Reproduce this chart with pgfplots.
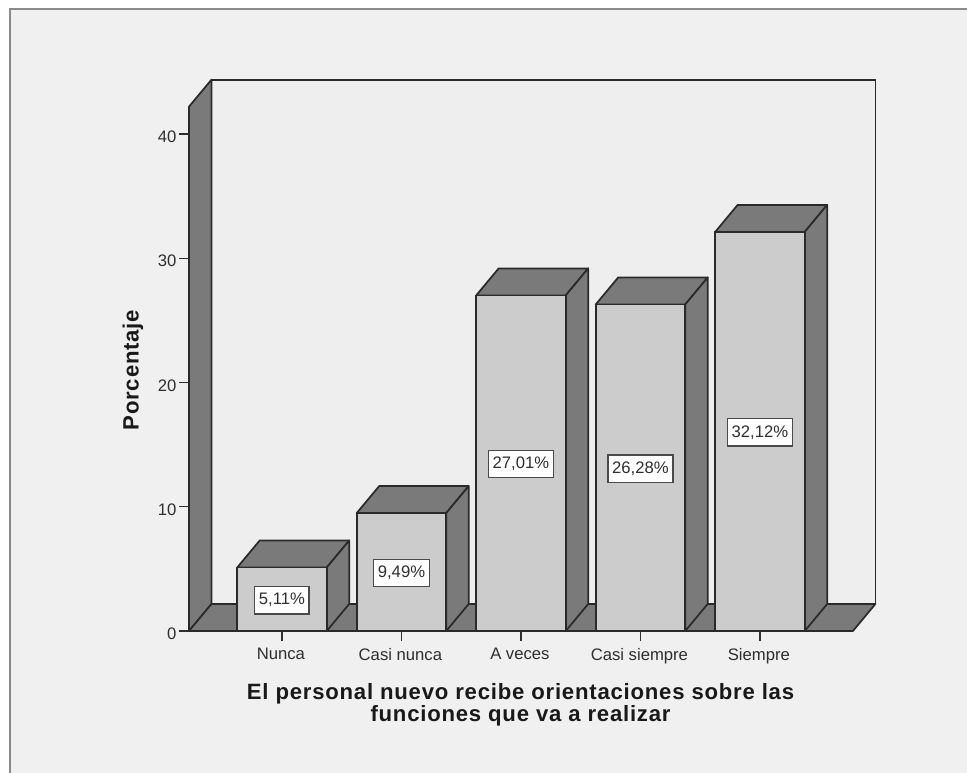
\documentclass[border=0pt]{standalone}
\usepackage{fontspec}
\setmainfont{Liberation Sans}
\usepackage{pgfplots}
\pgfplotsset{compat=1.18}
\definecolor{panel}{HTML}{F0F0F0}
\definecolor{wallbg}{HTML}{EEEEEE}
\definecolor{frameline}{HTML}{8A8A8A}
\definecolor{shade}{HTML}{7A7A7A}
\definecolor{front}{HTML}{CCCCCC}
\definecolor{edge}{HTML}{2A2A2A}
\definecolor{ink}{HTML}{2E2E2E}
\newfontfamily\spacedbold[LetterSpace=3.5,BoldFont={Liberation Sans Bold}]{Liberation Sans}
\begin{document}
\begin{tikzpicture}[x=1pt,y=1pt]
% page and outer panel; all sizes use 1 px = 0.75 pt
\useasboundingbox (0,0) rectangle (725.25,579.75);
\fill[white] (0,0) rectangle (725.25,579.75);
\fill[panel] (7.5,0) rectangle (725.25,573);
\draw[frameline,line width=1.8pt] (7.5,-1) -- (7.5,573) -- (726,573);
\begin{axis}[
  at={(141.75pt,106.5pt)}, anchor=south west,
  scale only axis, width=514.8pt, height=413.5pt,
  xmin=-0.778, xmax=4.966, ymin=0, ymax=44.373,
  clip=false,
  axis line style={draw=none},
  tick align=outside, major tick length=7.5pt,
  tick style={draw=ink,line width=1.1pt},
  xtick={0,1,2,3,4},
  xticklabels={Nunca,Casi nunca,A veces,Casi siempre,Siempre},
  ytick={0,10,20,30,40},
  xtick pos=bottom, ytick pos=left,
  /pgf/number format/assume math mode=true,
  tick label style={font=\fontsize{12.5}{14}\selectfont,text=ink},
  xticklabel style={yshift=-2pt,xshift=-0.8pt},
  yticklabel style={xshift=1.6pt,yshift=-2.2pt},
  xlabel={El personal nuevo recibe orientaciones sobre las\\funciones que va a realizar},
  xlabel style={at={(axis description cs:0.483,-0.1342)},anchor=center,align=center,
    font=\fontsize{16.6}{16.5}\selectfont\spacedbold\bfseries,text=black!90},
  ylabel={Porcentaje},
  ylabel style={at={(axis description cs:-0.0816,0.473)},anchor=center,rotate=0,
    font=\fontsize{16.6}{16.5}\selectfont\spacedbold\bfseries,text=black!90},
  shadeface/.style={fill=shade,draw=edge,line width=1.3pt,line join=round,forget plot},
  frontface/.style={fill=front,draw=edge,line width=1.3pt,forget plot},
]
% back wall, side wall and floor of the chart box
\addplot[fill=wallbg,draw=edge,line width=1.3pt,forget plot] coordinates {(-0.59,2.173) (4.966,2.173) (4.966,44.373) (-0.59,44.373)} -- cycle;
\addplot[shadeface] coordinates {(-0.778,0) (-0.59,2.173) (-0.59,44.373) (-0.778,42.2)} -- cycle;
\addplot[shadeface] coordinates {(-0.778,0) (4.778,0) (4.966,2.173) (-0.59,2.173)} -- cycle;
% top faces of the five bars
\addplot[shadeface] coordinates {(-0.3745,5.11) (0.3745,5.11) (0.5625,7.283) (-0.1865,7.283)} -- cycle;
\addplot[shadeface] coordinates {(0.6255,9.49) (1.3745,9.49) (1.5625,11.663) (0.8135,11.663)} -- cycle;
\addplot[shadeface] coordinates {(1.6255,27.01) (2.3745,27.01) (2.5625,29.183) (1.8135,29.183)} -- cycle;
\addplot[shadeface] coordinates {(2.6255,26.28) (3.3745,26.28) (3.5625,28.453) (2.8135,28.453)} -- cycle;
\addplot[shadeface] coordinates {(3.6255,32.12) (4.3745,32.12) (4.5625,34.293) (3.8135,34.293)} -- cycle;
% right side faces of the five bars
\addplot[shadeface] coordinates {(0.3745,0) (0.5625,2.173) (0.5625,7.283) (0.3745,5.11)} -- cycle;
\addplot[shadeface] coordinates {(1.3745,0) (1.5625,2.173) (1.5625,11.663) (1.3745,9.49)} -- cycle;
\addplot[shadeface] coordinates {(2.3745,0) (2.5625,2.173) (2.5625,29.183) (2.3745,27.01)} -- cycle;
\addplot[shadeface] coordinates {(3.3745,0) (3.5625,2.173) (3.5625,28.453) (3.3745,26.28)} -- cycle;
\addplot[shadeface] coordinates {(4.3745,0) (4.5625,2.173) (4.5625,34.293) (4.3745,32.12)} -- cycle;
% front faces
\addplot[ybar,bar width=67.1pt,frontface] coordinates {(0,5.11) (1,9.49) (2,27.01) (3,26.28) (4,32.12)};
% boxed value labels at mid-height of each bar
\addplot[draw=none,forget plot,point meta=explicit symbolic,
  nodes near coords,
  every node near coord/.style={anchor=center,fill=white,draw=edge!85,line width=1pt,
    inner xsep=3.1pt,inner ysep=0pt,minimum height=20.5pt,yshift=-0.7pt,
    font=\fontsize{12.5}{14}\selectfont,text=ink}]
  coordinates {(0,2.555)[5,11\%] (1,4.745)[9,49\%] (2,13.505)[27,01\%] (3,13.14)[26,28\%] (4,16.06)[32,12\%]};
\end{axis}
\end{tikzpicture}
\end{document}
